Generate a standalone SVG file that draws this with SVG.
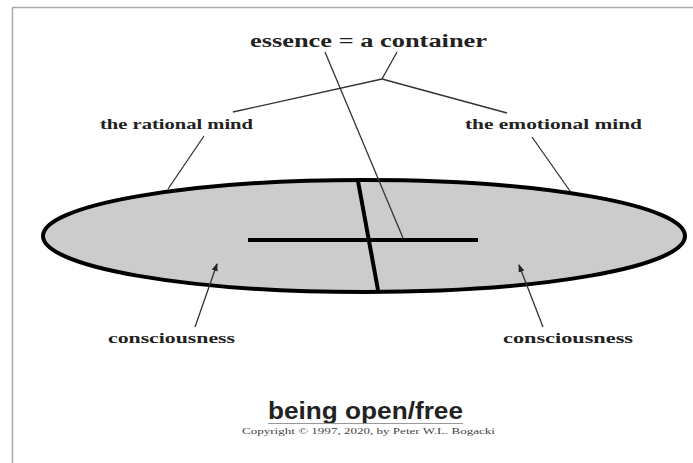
<svg xmlns="http://www.w3.org/2000/svg" width="693" height="463" viewBox="0 0 693 463">
<defs>
<style>
.lbl{font-family:"Liberation Serif","Times New Roman",serif;font-weight:bold;fill:#222}
.thin{stroke:#333;stroke-width:1.3;fill:none}
.thick{stroke:#000;stroke-width:4;fill:none}
</style>
<marker id="ah" markerWidth="8" markerHeight="8" refX="7" refY="4" orient="auto" markerUnits="userSpaceOnUse">
<path d="M0,1 L8,4 L0,7 Z" fill="#222"/>
</marker>
</defs>
<rect width="693" height="463" fill="#fff"/>
<path d="M12.5,463 V7.5 H693" stroke="#aaa" stroke-width="1.5" fill="none"/>
<g id="container">
<ellipse cx="364" cy="236" rx="321" ry="56" fill="#cccccc" stroke="#000" stroke-width="4"/>
<line class="thick" x1="358" y1="181" x2="378" y2="290"/>
<line class="thick" x1="248" y1="240" x2="478" y2="240"/>
</g>
<g id="connectors">
<line class="thin" x1="325" y1="52" x2="403" y2="238"/>
<line class="thin" x1="397" y1="52" x2="382" y2="79"/>
<line class="thin" x1="382" y1="79" x2="233" y2="112"/>
<line class="thin" x1="382" y1="79" x2="507" y2="113"/>
<line class="thin" x1="204" y1="136" x2="168" y2="189"/>
<line class="thin" x1="532" y1="137" x2="570" y2="191"/>
<line class="thin" x1="195" y1="327" x2="217" y2="264" marker-end="url(#ah)"/>
<line class="thin" x1="543" y1="327" x2="519" y2="265" marker-end="url(#ah)"/>
</g>
<g id="essence"><text class="lbl" x="250" y="47" font-size="18" textLength="237" lengthAdjust="spacingAndGlyphs">essence = a container</text></g>
<g id="rational"><text class="lbl" x="100" y="129" font-size="15" textLength="153" lengthAdjust="spacingAndGlyphs">the rational mind</text></g>
<g id="emotional"><text class="lbl" x="465" y="129" font-size="15" textLength="177" lengthAdjust="spacingAndGlyphs">the emotional mind</text></g>
<g id="consciousness-left"><text class="lbl" x="108" y="343" font-size="15" textLength="127" lengthAdjust="spacingAndGlyphs">consciousness</text></g>
<g id="consciousness-right"><text class="lbl" x="503" y="343" font-size="15" textLength="130" lengthAdjust="spacingAndGlyphs">consciousness</text></g>
<g id="title">
<text x="268" y="419" font-family="'Liberation Sans',Arial,sans-serif" font-weight="bold" font-size="24" fill="#222" textLength="195" lengthAdjust="spacingAndGlyphs">being open/free</text>
<line x1="268" y1="423.5" x2="463" y2="423.5" stroke="#999" stroke-width="1"/>
<text x="242" y="434" font-family="'Liberation Serif','Times New Roman',serif" font-size="9" fill="#444" textLength="253" lengthAdjust="spacingAndGlyphs">Copyright © 1997, 2020, by Peter W.L. Bogacki</text>
</g>
</svg>
